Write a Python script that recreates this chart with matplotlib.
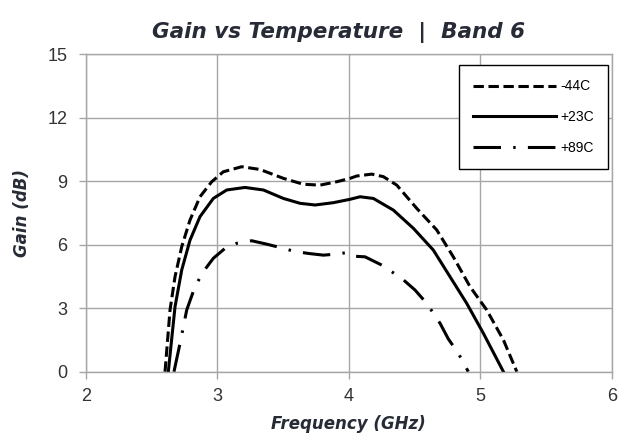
import numpy as np
from matplotlib import pyplot as plt

# Data
freq_m44 = [2.603, 2.641, 2.679, 2.730, 2.793, 2.869, 2.958, 3.046, 3.186, 3.325, 3.503, 3.655,
            3.782, 3.909, 4.010, 4.060, 4.175, 4.263, 4.365, 4.517, 4.669, 4.795, 4.922, 5.049,
            5.176, 5.278]
gain_m44 = [0.0, 2.92, 4.49, 5.91, 7.17, 8.27, 8.98, 9.45, 9.69, 9.56, 9.14, 8.86,
            8.82, 8.98, 9.14, 9.25, 9.34, 9.22, 8.82, 7.72, 6.70, 5.43, 4.02, 2.92,
            1.50, 0.0]

freq_p23 = [2.628, 2.679, 2.730, 2.793, 2.869, 2.970, 3.072, 3.211, 3.351, 3.503, 3.630, 3.744,
            3.883, 4.010, 4.086, 4.187, 4.339, 4.491, 4.643, 4.770, 4.897, 5.024, 5.176]
gain_p23 = [0.0, 3.07, 4.81, 6.22, 7.33, 8.19, 8.59, 8.71, 8.59, 8.19, 7.96, 7.88,
            7.99, 8.15, 8.27, 8.19, 7.64, 6.78, 5.75, 4.49, 3.23, 1.81, 0.0]

freq_p89 = [2.671, 2.717, 2.768, 2.831, 2.894, 2.970, 3.059, 3.148, 3.262, 3.376, 3.503, 3.579,
            3.693, 3.807, 3.909, 3.972, 4.010, 4.124, 4.251, 4.403, 4.504, 4.593, 4.694, 4.757,
            4.833, 4.909]
gain_p89 = [0.0, 1.34, 2.92, 4.02, 4.73, 5.36, 5.83, 6.07, 6.19, 6.03, 5.83, 5.70,
            5.59, 5.51, 5.56, 5.62, 5.47, 5.43, 5.04, 4.41, 3.86, 3.23, 2.29, 1.55,
            0.87, 0.0]

labels = ['-44C', '+23C', '+89C']
xticks = [2, 3, 4, 5, 6]
yticks = [0, 3, 6, 9, 12, 15]

# Figure

fig = plt.figure(figsize=(6.23, 4.45), dpi=100)
ax = fig.add_axes([0.1376, 0.1647, 0.8444, 0.7131])

grid_c = '#a6a6a6'
text_c = '#262b36'

ax.plot(freq_m44, gain_m44, color='black', lw=2.2, dashes=(3.4, 1.5), label=labels[0])
ax.plot(freq_p23, gain_p23, color='black', lw=2.2, label=labels[1])
ax.plot(freq_p89, gain_p89, color='black', lw=2.2, dashes=(9, 4, 0.8, 4), label=labels[2])

ax.set_xlim(2, 6)
ax.set_ylim(0, 15)
ax.set_xticks(xticks)
ax.set_yticks(yticks)
ax.grid(True, color=grid_c, lw=1)
ax.set_axisbelow(True)
for s in ax.spines.values():
    s.set_color(grid_c)
    s.set_linewidth(1)
ax.tick_params(direction='out', length=5, width=1, color=grid_c,
               labelsize=13, labelcolor='#333333')
ax.tick_params(axis='x', pad=7)
ax.tick_params(axis='y', pad=8)
for t in ax.get_xticklabels() + ax.get_yticklabels():
    t.set_family('Liberation Sans')

ax.set_title('Gain vs Temperature  |  Band 6', fontsize=15.5, fontweight='bold',
             fontstyle='italic', color=text_c, family='DejaVu Sans', pad=12, x=0.48)
ax.set_xlabel('Frequency (GHz)', fontsize=12, fontweight='bold', fontstyle='italic',
              color=text_c, family='DejaVu Sans', labelpad=7)
ax.set_ylabel('Gain (dB)', fontsize=12, fontweight='bold', fontstyle='italic',
              color=text_c, family='DejaVu Sans', labelpad=12)

leg = ax.legend(loc='upper right', bbox_to_anchor=(0.992, 0.965), borderaxespad=0,
                fancybox=False, framealpha=1, edgecolor='black',
                prop={'family': 'Liberation Sans', 'size': 10},
                handlelength=6.0, handletextpad=0.3, labelspacing=1.2,
                borderpad=1.0)
leg.get_frame().set_linewidth(1)

fig.savefig('out.png', dpi=100)
